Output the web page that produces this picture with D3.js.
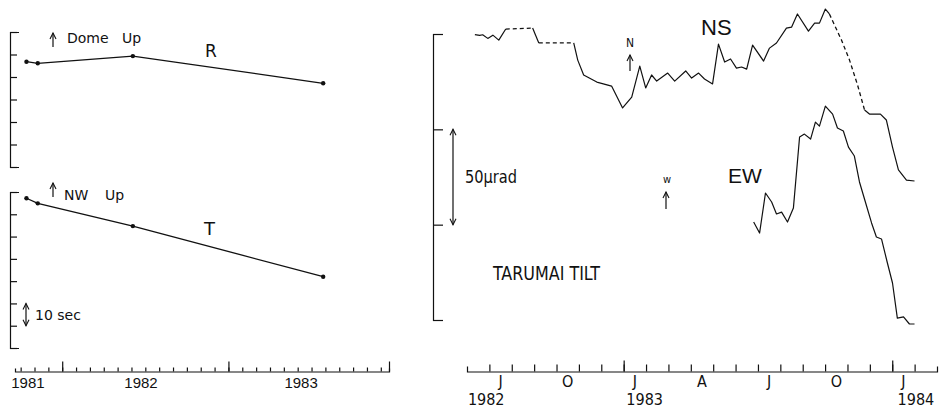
<!DOCTYPE html>
<html>
<head>
<meta charset="utf-8">
<script src="https://cdn.jsdelivr.net/npm/d3@7"></script>
<style>
  body { margin: 0; background: #fff; }
  .ax path, .ax line { stroke: #111; stroke-width: 1.2; }
  .left text { font-family: "DejaVu Sans", sans-serif; fill: #111; }
  .right text { font-family: "Liberation Sans Narrow", "DejaVu Sans Condensed", "Liberation Sans", sans-serif; fill: #111; }
</style>
</head>
<body>
<script>
// Tarumai: gravity / tilt figure

var width = 943;
var height = 416;

// left: survey results (sec)
var surveyYears = [1981.035, 1981.103, 1981.675, 1982.82];
var rValues = [46.8, 46.1, 49.3, 37.2];
var tValues = [67.2, 64.9, 54.7, 32.0];
var leftYearLabels = ["1981", "1982", "1983"];
var leftYearLabelAt = [1981.044, 1981.724, 1982.687];

// right: tilt (microrad)
var nsYears = [1982.446, 1982.464, 1982.475, 1982.494, 1982.513, 1982.535, 1982.561,
  1982.661, 1982.684, 1982.814, 1982.829, 1982.851, 1982.900, 1982.955, 1982.996,
  1983.030, 1983.060, 1983.082, 1983.104, 1983.123, 1983.164, 1983.190, 1983.231,
  1983.253, 1983.279, 1983.301, 1983.331, 1983.353, 1983.376, 1983.398, 1983.420,
  1983.439, 1983.458, 1983.480, 1983.521, 1983.543, 1983.569, 1983.606, 1983.625,
  1983.647, 1983.688, 1983.711, 1983.729, 1983.751, 1983.766, 1983.811, 1983.841,
  1983.871, 1983.897, 1983.915, 1983.956, 1983.978, 1984.001, 1984.023, 1984.053, 1984.083];
var nsValues = [149.7, 149.3, 149.6, 147.7, 149.4, 146.8, 152.6,
  153.1, 145.3, 145.3, 136.3, 128.5, 124.8, 122.7, 111.2,
  116.9, 133.2, 121.7, 128.5, 125.3, 129.5, 125.3, 130.6,
  126.9, 129.5, 126.4, 123.8, 144.7, 135.3, 136.9, 132.1,
  132.7, 131.6, 144.2, 135.8, 142.6, 145.3, 153.1, 153.6,
  160.5, 151.5, 155.7, 155.7, 163.1, 160.5, 146.8, 136.3,
  123.2, 110.1, 108.0, 108.0, 104.9, 90.7, 78.7, 73.4, 72.9];
// stretches with no record (drawn dashed)
var nsGaps = [[1982.561, 1982.661], [1982.684, 1982.814], [1983.766, 1983.897]];

var ewYears = [1983.484, 1983.506, 1983.528, 1983.551, 1983.569, 1983.588, 1983.610,
  1983.632, 1983.655, 1983.673, 1983.696, 1983.714, 1983.729, 1983.751, 1983.778,
  1983.796, 1983.818, 1983.837, 1983.859, 1983.878, 1983.900, 1983.923, 1983.941,
  1983.960, 1983.982, 1984.001, 1984.019, 1984.042, 1984.064, 1984.083];
var ewValues = [51.4, 45.6, 66.6, 61.9, 55.6, 56.6, 51.4,
  58.7, 96.0, 97.5, 94.9, 103.8, 101.7, 112.2, 108.0,
  100.7, 99.1, 90.7, 86.0, 72.4, 61.9, 50.9, 43.5,
  42.5, 29.9, 19.4, 1.0, 1.6, -2.1, -2.1];

var monthLetters = ["J", "O", "J", "A", "J", "O", "J"];
var monthLetterAt = [1982.5417, 1982.7917, 1983.0417, 1983.2917, 1983.5417, 1983.7917, 1984.0417];
var rightYearLabels = ["1982", "1983", "1984"];
var rightYearLabelAt = [1982.42, 1983.01, 1984.02];

var svg = d3.select("body")
  .append("svg")
    .attr("width", width)
    .attr("height", height)
    .style("background-color", "#fff");

// scales
var axisY = 371.5;
var xL = d3.scaleLinear().domain([1980.966, 1983.216]).range([15, 389]);
var yR = d3.scaleLinear().domain([0, 60]).range([167, 32]);
var yT = d3.scaleLinear().domain([0, 70]).range([348, 192]);
var xR = d3.scaleLinear().domain([1982 + 5 / 12, 1984 + 2 / 12]).range([467, 937]);
var yTilt = d3.scaleLinear().domain([0, 150]).range([320, 34]);

var left = svg.append("g").attr("class", "left");
var right = svg.append("g").attr("class", "right");

var line = d3.line();

var arrowHead = function(g, x, y, dir) {
  // dir = -1 points up, 1 points down
  g.append("path")
    .attr("d", "M" + (x - 3) + "," + (y - dir * 6) + "L" + x + "," + y + "L" + (x + 3) + "," + (y - dir * 6))
    .attr("fill", "none").attr("stroke", "#111").attr("stroke-width", 1.1);
};

var vArrow = function(g, x, y0, y1, heads) {
  g.append("line").attr("x1", x).attr("x2", x).attr("y1", y0).attr("y2", y1)
    .attr("stroke", "#111").attr("stroke-width", 1.2);
  if (heads.indexOf("top") >= 0) arrowHead(g, x, Math.min(y0, y1), -1);
  if (heads.indexOf("bottom") >= 0) arrowHead(g, x, Math.max(y0, y1), 1);
};

// ---- left panels ----
var months = d3.range(0, 27).map(function(k) { return 1981 + k / 12; });

left.append("g").attr("class", "ax")
  .attr("transform", "translate(0," + axisY + ")")
  .call(d3.axisTop(xL).tickValues(months).tickSize(4).tickSizeOuter(3).tickFormat(""));
left.append("g").attr("class", "ax")
  .attr("transform", "translate(0," + axisY + ")")
  .call(d3.axisTop(xL).tickValues([1981.25, 1982.25, xL.domain()[1]]).tickSize(10).tickFormat(""))
  .select(".domain").remove();

left.selectAll(".ylab")
  .data(leftYearLabels)
  .enter().append("text")
    .attr("x", function(d, i) { return xL(leftYearLabelAt[i]); })
    .attr("y", 388)
    .attr("text-anchor", "middle")
    .style("font-family", "Liberation Sans, sans-serif")
    .style("font-size", "15px")
    .text(function(d) { return d; });

left.append("g").attr("class", "ax")
  .attr("transform", "translate(10,0)")
  .call(d3.axisRight(yR).tickValues(d3.range(0, 61, 10)).tickSize(7).tickSizeOuter(9).tickFormat(""));
left.append("g").attr("class", "ax")
  .attr("transform", "translate(10,0)")
  .call(d3.axisRight(yT).tickValues(d3.range(0, 71, 10)).tickSize(7).tickSizeOuter(9).tickFormat(""));

var drawSurvey = function(vals, y) {
  var pts = vals.map(function(v, i) { return [xL(surveyYears[i]), y(v)]; });
  left.append("path")
    .attr("d", line(pts))
    .attr("fill", "none").attr("stroke", "#111").attr("stroke-width", 1.3);
  left.selectAll(null)
    .data(pts)
    .enter().append("circle")
      .attr("cx", function(d) { return d[0]; })
      .attr("cy", function(d) { return d[1]; })
      .attr("r", 2.2)
      .attr("fill", "#111");
};
drawSurvey(rValues, yR);
drawSurvey(tValues, yT);

vArrow(left, 53, 47, 33, ["top"]);
left.append("text").attr("x", 67).attr("y", 43).style("font-size", "14px").text("Dome");
left.append("text").attr("x", 122).attr("y", 43).style("font-size", "14px").text("Up");
left.append("text").attr("x", 205).attr("y", 57).style("font-size", "17px").text("R");

vArrow(left, 53, 197, 183, ["top"]);
left.append("text").attr("x", 64).attr("y", 200).style("font-size", "14px").text("NW");
left.append("text").attr("x", 105).attr("y", 200).style("font-size", "14px").text("Up");
left.append("text").attr("x", 204).attr("y", 235).style("font-size", "18px").text("T");

// 10 sec scale bar
vArrow(left, 26, yT(20), yT(10), ["top", "bottom"]);
left.append("text").attr("x", 35).attr("y", 320).style("font-size", "14px").text("10 sec");

// ---- right panel ----
var rMonths = d3.range(0, 20).map(function(k) { return 1982.5 + k / 12; });

right.append("g").attr("class", "ax")
  .attr("transform", "translate(0," + axisY + ")")
  .call(d3.axisTop(xR).tickValues(rMonths).tickSize(7).tickSizeOuter(5).tickFormat(""));
right.append("g").attr("class", "ax")
  .attr("transform", "translate(0," + axisY + ")")
  .call(d3.axisTop(xR).tickValues([1983, 1984]).tickSize(11).tickFormat(""))
  .select(".domain").remove();

right.selectAll(".mlab")
  .data(monthLetters)
  .enter().append("text")
    .attr("x", function(d, i) { return xR(monthLetterAt[i]); })
    .attr("y", 387)
    .attr("text-anchor", "middle")
    .style("font-size", "16px")
    .text(function(d) { return d; });

right.selectAll(".yrlab")
  .data(rightYearLabels)
  .enter().append("text")
    .attr("x", function(d, i) { return xR(rightYearLabelAt[i]); })
    .attr("y", 405)
    .style("font-size", "16px")
    .text(function(d) { return d; });

right.append("g").attr("class", "ax")
  .attr("transform", "translate(433,0)")
  .call(d3.axisRight(yTilt).tickValues([0, 50, 100, 150]).tickSize(10).tickSizeOuter(10).tickFormat(""));

var inGap = function(a, b) {
  return nsGaps.some(function(g) { return a >= g[0] && b <= g[1]; });
};

var drawTilt = function(years, vals, gaps) {
  var runs = [];
  for (var i = 0; i < years.length - 1; i++) {
    var dashed = gaps && inGap(years[i], years[i + 1]);
    var last = runs[runs.length - 1];
    if (!last || last.dashed !== dashed) {
      last = { dashed: dashed, pts: [[xR(years[i]), yTilt(vals[i])]] };
      runs.push(last);
    }
    last.pts.push([xR(years[i + 1]), yTilt(vals[i + 1])]);
  }
  runs.forEach(function(r) {
    right.append("path")
      .attr("d", line(r.pts))
      .attr("fill", "none")
      .attr("stroke", "#111")
      .attr("stroke-width", r.dashed ? 1.3 : 1.2)
      .attr("stroke-dasharray", r.dashed ? "4,3" : null)
      .attr("stroke-linejoin", "round");
  });
};
drawTilt(nsYears, nsValues, true);
drawTilt(ewYears, ewValues, false);

right.append("text").attr("x", 701).attr("y", 35).style("font-size", "22px")
  .style("font-family", "Liberation Sans, sans-serif").text("NS");
right.append("text").attr("x", 728).attr("y", 183).style("font-size", "21px")
  .style("font-family", "Liberation Sans, sans-serif").text("EW");

// direction marks
right.append("text").attr("x", 630).attr("y", 47).attr("text-anchor", "middle")
  .style("font-size", "12px").text("N");
vArrow(right, 630, 71, 55, ["top"]);
right.append("text").attr("x", 667).attr("y", 183).attr("text-anchor", "middle")
  .style("font-size", "11px").text("w");
vArrow(right, 666, 209, 192, ["top"]);

// 50 microrad scale bar
vArrow(right, 453, yTilt(100), yTilt(50), ["top", "bottom"]);
right.append("text").attr("x", 465).attr("y", 183).style("font-size", "18px")
  .attr("textLength", 52).attr("lengthAdjust", "spacingAndGlyphs").text("50μrad");

right.append("text").attr("x", 493).attr("y", 280).style("font-size", "20px")
  .attr("textLength", 107).attr("lengthAdjust", "spacingAndGlyphs").text("TARUMAI TILT");
</script>
</body>
</html>
